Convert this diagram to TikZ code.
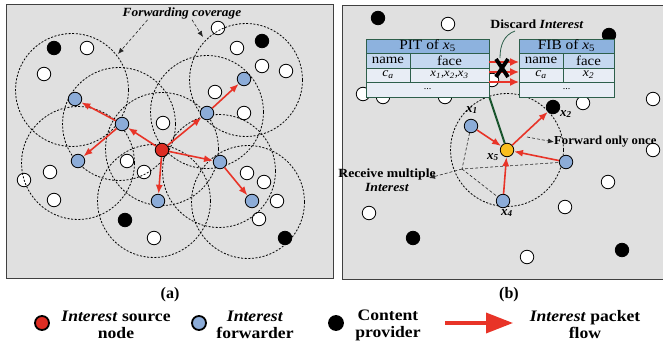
\documentclass[tikz,border=0pt]{standalone}
\usepackage{fontspec}
\setmainfont{Liberation Serif}
\usetikzlibrary{arrows.meta}
\definecolor{bg}{RGB}{224,224,224}
\definecolor{redn}{RGB}{222,45,35}
\definecolor{bluen}{RGB}{140,172,216}
\definecolor{yel}{RGB}{250,190,30}
\definecolor{arr}{RGB}{232,52,40}
\definecolor{thead}{RGB}{141,178,222}
\definecolor{trow}{RGB}{197,216,240}
\definecolor{tcell}{RGB}{232,237,245}
\definecolor{tline}{RGB}{45,95,75}
\definecolor{gline}{RGB}{25,85,45}
\newcommand{\hs}[1]{\scalebox{1.1}[1]{#1}}
\newcommand{\vx}[1]{\textit{x}\textsubscript{#1}}
\newcommand{\bvx}[1]{\textbf{\textit{x}\textsubscript{\textit{#1}}}}
\begin{document}
\begin{tikzpicture}[x=1pt,y=-1pt,
  nd/.style={circle,draw=black,line width=0.8pt,minimum size=13.5pt,inner sep=0pt},
  wn/.style={nd,fill=white},
  bn/.style={nd,fill=bluen},
  kn/.style={nd,fill=black},
  rn/.style={nd,fill=redn},
  yn/.style={nd,fill=yel},
  cov/.style={draw=black,line width=0.8pt,dash pattern=on 2pt off 1.6pt},
  fw/.style={draw=arr,line width=1.6pt,-{Latex[length=9pt,width=7pt]}},
  thin dash/.style={draw=black!85,line width=0.6pt,dash pattern=on 3pt off 2pt},
  txt/.style={inner sep=0pt,font=\fontsize{12.5}{14}\selectfont\bfseries},
  lg/.style={inner sep=0pt,align=center,font=\fontsize{16}{17}\selectfont\bfseries},
  cell/.style={draw=tline,line width=0.9pt,inner sep=0pt,font=\fontsize{13.5}{14}\selectfont},
  tarr/.style={draw=arr,line width=1.5pt,-{Latex[length=9pt,width=8pt]}}]
\clip (0,0) rectangle (663,347);
\useasboundingbox (0,0) rectangle (663,347);
\fill[white] (0,0) rectangle (663,347);
% panels
\draw[fill=bg,draw=black!75,line width=1pt] (6,5) rectangle (333,278);
\draw[fill=bg,draw=black!75,line width=1pt] (342,6) rectangle (690,279);

% ---------- panel (a) ----------
\foreach \p [count=\i] in {(87,48),(44,74),(218,28),(237,48),(262,66),(286,71),(215,92),(244,113),(163,123),(127,161),(144,172),(50,172),(24,180),(54,200),(247,173),(264,182),(277,201),(259,219),(154,238)}
  \node[wn] (aw\i) at \p {};
\foreach \c in {(72,90),(246,80),(78,163),(119,124),(162,149),(207,112),(154,201),(219,171),(248,202)}
  \draw[cov] \c circle[radius=56.5];
\node[kn] (ak1) at (54,48) {};
\node[kn] (ak2) at (262,41) {};
\node[kn] (ak3) at (125,220) {};
\node[kn] (ak4) at (285,238) {};
\node[rn] (src) at (162,150) {};
\node[bn] (f1) at (122,124) {};
\node[bn] (f2) at (75,99) {};
\node[bn] (f3) at (78,161) {};
\node[bn] (f4) at (207,113) {};
\node[bn] (f5) at (244,79) {};
\node[bn] (f6) at (220,162) {};
\node[bn] (f7) at (252,201) {};
\node[bn] (f8) at (158,201) {};
\draw[fw] (src) -- (f1);
\draw[fw] (f1) -- (f2);
\draw[fw] (f1) -- (f3);
\draw[fw] (src) -- (f4);
\draw[fw] (f4) -- (f5);
\draw[fw] (src) -- (f6);
\draw[fw] (f6) -- (f7);
\draw[fw] (src) -- (f8);
\node[txt,font=\fontsize{12.5}{14}\selectfont\bfseries\itshape] (fc) at (182,13) {\scalebox{1.07}[1]{Forwarding coverage}};
\coordinate (fcA) at (118,54);
\coordinate (fcB) at (203,37);
\draw[thin dash,-{Latex[length=6pt,width=5pt]}] (fc.south west) ++(25,1) -- (fcA);
\draw[thin dash,-{Latex[length=6pt,width=5pt]}] (fc.south) ++(10,1) .. controls (196,26) and (199,31) .. (fcB);

% ---------- panel (b) ----------
\foreach \p [count=\i] in {(448,24),(363,94),(383,97),(445,97),(492,80),(583,103),(653,99),(653,150),(608,182),(565,207),(369,213),(527,257)}
  \node[wn] (bw\i) at \p {};
\node[kn] (bk1) at (378,18) {};
\node[kn] (bk2) at (609,35) {};
\node[kn] (bk4) at (413,238) {};
\node[kn] (bk5) at (622,250) {};
\draw[cov] (507,150) circle[radius=56.5];
% tables
\node[cell,fill=thead,minimum width=123pt,minimum height=14pt,font=\fontsize{14}{14}\selectfont] (pitH) at (427.5,46) {\hs{PIT of \vx{5}}};
\node[cell,fill=trow,minimum width=44pt,minimum height=15pt] (pitN2) at (388,60.5) {\hs{name}};
\node[cell,fill=trow,minimum width=79pt,minimum height=15pt] (pitF2) at (449.5,60.5) {\hs{face}};
\node[cell,fill=tcell,minimum width=44pt,minimum height=14pt,font=\fontsize{12.5}{13}\selectfont\itshape] (pitN3) at (388,75) {\hs{c\textsubscript{a}}};
\node[cell,fill=tcell,minimum width=79pt,minimum height=14pt,font=\fontsize{11.5}{12}\selectfont\itshape] (pitF3) at (449.5,75) {\hs{x\textsubscript{1},x\textsubscript{2},x\textsubscript{3}}};
\node[cell,fill=tcell,minimum width=123pt,minimum height=15pt,font=\fontsize{10}{10}\selectfont] (pitR4) at (427.5,89.5) {...};
\node[cell,fill=thead,minimum width=95pt,minimum height=14pt,font=\fontsize{14}{14}\selectfont] (fibH) at (566.5,46) {\hs{FIB of \vx{5}}};
\node[cell,fill=trow,minimum width=44pt,minimum height=15pt] (fibN2) at (541,60.5) {\hs{name}};
\node[cell,fill=trow,minimum width=51pt,minimum height=15pt] (fibF2) at (588.5,60.5) {\hs{face}};
\node[cell,fill=tcell,minimum width=44pt,minimum height=14pt,font=\fontsize{12.5}{13}\selectfont\itshape] (fibN3) at (541,75) {\hs{c\textsubscript{a}}};
\node[cell,fill=tcell,minimum width=51pt,minimum height=14pt,font=\fontsize{12.5}{13}\selectfont\itshape] (fibF3) at (588.5,75) {\hs{x\textsubscript{2}}};
\node[cell,fill=tcell,minimum width=95pt,minimum height=15pt,font=\fontsize{10}{10}\selectfont] (fibR4) at (566.5,89.5) {...};
\coordinate (ta1) at (489,62); \coordinate (tb1) at (519,62);
\coordinate (ta2) at (489,72); \coordinate (tb2) at (519,72);
\coordinate (ta3) at (489,82); \coordinate (tb3) at (519,82);
\draw[tarr] (ta1) -- (tb1);
\draw[tarr] (ta2) -- (tb2);
\draw[tarr] (ta3) -- (tb3);
\draw[line width=3.8pt] (496,59) -- (508,77) (508,59) -- (496,77);
\node[txt] (disc) at (537,24) {\hs{Discard \textit{Interest}}};
\draw[draw=tline,line width=0.8pt] (515,31) .. controls (504,35) and (500,45) .. (500,58);
% nodes around x5
\node[yn] (x5) at (507,150) {};
\node[bn] (x1) at (471,126) {};
\node[bn] (x3) at (566,162) {};
\node[bn] (x4) at (503,201) {};
\node[kn] (x2) at (553,107) {};
\draw[draw=gline,line width=2pt] (x5) -- (pitR4.south east);
\coordinate (hub) at (462,169);
\draw[thin dash] (x1) -- (hub) -- (x3);
\draw[thin dash] (hub) -- (x4);
\node[txt,anchor=west,font=\fontsize{12.2}{14}\selectfont\bfseries] (fwo) at (554,142) {\scalebox{1.04}[1]{Forward only once}};
\node[txt,align=center] (rmi) at (387,180) {\hs{Receive multiple}\\\hs{\textit{Interest}}};
\draw[thin dash,-{Latex[length=6pt,width=5pt]}] (hub) -- (429,178);
\draw[thin dash,-{Latex[length=6pt,width=5pt]}] (527,137) -- (fwo.west);
\draw[fw] (x1) -- (x5);
\draw[fw] (x3) -- (x5);
\draw[fw] (x4) -- (x5);
\draw[fw] (x5) -- (x2);
\node[txt,font=\fontsize{13}{14}\selectfont] (l1) at (472,110) {\bvx{1}};
\node[txt,font=\fontsize{13}{14}\selectfont] (l2) at (566,114) {\bvx{2}};
\node[txt,font=\fontsize{13}{14}\selectfont] (l5) at (493,157) {\bvx{5}};
\node[txt,font=\fontsize{13}{14}\selectfont] (l4) at (507,213) {\bvx{4}};

% ---------- captions and legend ----------
\node[lg] (capa) at (170,295) {(a)};
\node[lg] (capb) at (509,295) {(b)};
\node[rn,minimum size=14pt,line width=1.8pt] (lr) at (42,323) {};
\node[lg] (lrt) at (116,325) {\hs{\textit{Interest} source}\\\hs{node}};
\node[bn,minimum size=14pt,line width=1.8pt] (lb) at (199,323) {};
\node[lg] (lbt) at (255,325) {\hs{\textit{Interest}}\\\hs{forwarder}};
\node[kn,minimum size=14pt,line width=1.8pt] (lk) at (336,323) {};
\node[lg] (lkt) at (388,325) {\hs{Content}\\\hs{provider}};
\coordinate (la1) at (445,323);
\coordinate (la2) at (513,323);
\draw[draw=arr,line width=3.5pt,-{Triangle[length=27pt,width=20pt]}] (la1) -- (la2);
\node[lg] (lat) at (585,325) {\hs{\textit{Interest} packet}\\\hs{flow}};
\end{tikzpicture}
\end{document}
